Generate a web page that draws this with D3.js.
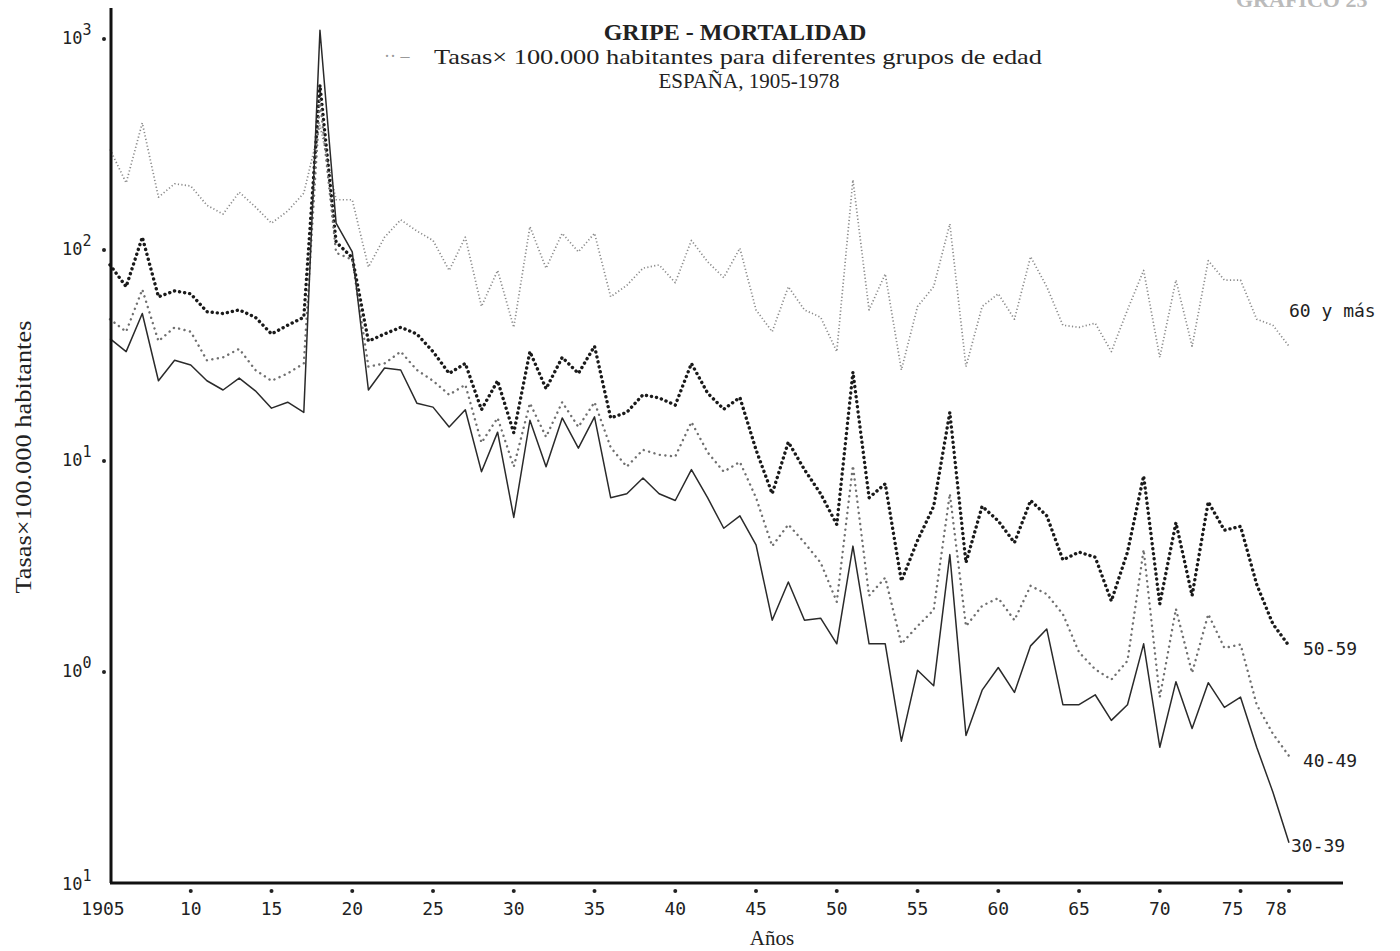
<!DOCTYPE html>
<html>
<head>
<meta charset="utf-8">
<script src="https://cdn.jsdelivr.net/npm/d3@7"></script>
<style>
  body { margin: 0; background: #fff; }
  svg { display: block; }
</style>
</head>
<body>
<div id="chart"></div>
<script>
// ---- data ----
var firstYear = 1905

var rate60 = [300, 208, 400, 178, 206, 201, 163, 148, 188, 160, 134, 153, 186, 390, 173, 173, 83, 115, 139, 123,
  111, 80, 115, 54, 80, 43, 129, 82, 120, 98, 120, 60, 68, 82, 85, 70, 111, 88, 74, 102,
  52, 41, 67, 52, 48, 33, 215, 52, 77, 27, 54, 67, 133, 28, 54, 62, 47, 93, 67, 44,
  43, 45, 33, 52, 80, 31, 72, 35, 89, 72, 72, 47, 44, 35]

var rate50 = [85, 67, 115, 60, 64, 62, 51, 50, 52, 48, 40, 44, 48, 605, 109, 92, 37, 40, 43, 40,
  33, 26, 29, 17.5, 24, 13.6, 33, 22, 31, 26, 35, 16, 17, 20.6, 19.9, 18.4, 29, 21, 17.6, 20,
  11.3, 7.0, 12.3, 9.1, 7.0, 5.0, 26.4, 6.7, 7.8, 2.7, 4.2, 6.1, 17, 3.3, 6.1, 5.2, 4.1, 6.5, 5.5, 3.4,
  3.7, 3.5, 2.17, 3.7, 8.5, 2.1, 5.1, 2.3, 6.4, 4.7, 4.9, 2.6, 1.69, 1.33]

var rate40 = [47, 41, 65, 37, 43, 41, 30, 31, 34, 27, 24, 26, 29, 514, 97, 90, 28, 29, 33, 27,
  24, 20.6, 23, 12.2, 16, 9.4, 18.8, 13, 19, 14.5, 19, 11.6, 9.4, 11.3, 10.7, 10.5, 15.3, 11, 8.9, 9.9,
  6.7, 3.95, 5.0, 4.1, 3.3, 2.15, 9.5, 2.3, 2.8, 1.36, 1.65, 1.97, 7.0, 1.65, 2.06, 2.24, 1.76, 2.56, 2.34, 1.88,
  1.24, 1.03, 0.92, 1.13, 3.8, 0.76, 1.99, 0.99, 1.88, 1.3, 1.35, 0.70, 0.51, 0.40]

var rate30 = [38, 33, 50, 24, 30, 28.5, 24, 21.7, 24.7, 21.5, 17.8, 19, 17, 1100, 134, 98, 21.7, 27.6, 27, 18.8,
  18, 14.5, 17.5, 8.9, 13.7, 5.4, 15.6, 9.4, 16, 11.5, 16.2, 6.7, 7.0, 8.3, 7.0, 6.5, 9.1, 6.7, 4.8, 5.5,
  4.0, 1.76, 2.67, 1.76, 1.8, 1.36, 3.95, 1.36, 1.36, 0.47, 1.02, 0.86, 3.6, 0.50, 0.82, 1.05, 0.80, 1.33, 1.6, 0.70,
  0.70, 0.78, 0.59, 0.70, 1.36, 0.44, 0.90, 0.54, 0.89, 0.68, 0.76, 0.44, 0.27, 0.155]

var seriesNames = ["60 y más", "50-59", "40-49", "30-39"]

var xTicks = [1905, 1910, 1915, 1920, 1925, 1930, 1935, 1940, 1945, 1950, 1955, 1960, 1965, 1970, 1975, 1978]
var xTickLabels = ["1905", "10", "15", "20", "25", "30", "35", "40", "45", "50", "55", "60", "65", "70", "75", "78"]
var yTicks = [1000, 100, 10, 1, 0.1]
var yTickExp = ["3", "2", "1", "0", "1"]   // the scan prints "1" on the lowest one

var title = "GRIPE - MORTALIDAD"
var subtitle = "Tasas\u00d7 100.000 habitantes para diferentes grupos de edad"
var subtitle2 = "ESPAÑA, 1905-1978"

// ---- layout ----
var W = 1400, H = 951
var serif = "'Liberation Serif', 'Times New Roman', serif"
var mono = "'DejaVu Sans Mono', 'Liberation Mono', monospace"

var svg = d3.select("#chart").append("svg")
  .attr("width", W)
  .attr("height", H)
  .style("background", "#fff")

var x = d3.scaleLinear().domain([1905, 1978]).range([110, 1289])
var y = d3.scaleLog().domain([0.1, 1000]).range([883, 39])

var years = rate30.map(function (d, i) { return firstYear + i })

var series = [
  { name: seriesNames[0], values: rate60, stroke: "#8a8a8a", width: 1.7, dash: "1.2,2.3", cap: "butt", lx: 0, ly: -36 },
  { name: seriesNames[1], values: rate50, stroke: "#1a1a1a", width: 3.4, dash: "0.1,5", cap: "round", lx: 14, ly: 3 },
  { name: seriesNames[2], values: rate40, stroke: "#707070", width: 2.4, dash: "0.1,5.5", cap: "round", lx: 14, ly: 5 },
  { name: seriesNames[3], values: rate30, stroke: "#2a2a2a", width: 1.5, dash: null, cap: "butt", lx: 2, ly: 3 }
]

var line = d3.line()
  .x(function (d) { return x(d.year) })
  .y(function (d) { return y(d.v) })

// series lines
series.forEach(function (s) {
  var pts = s.values.map(function (v, i) { return { year: years[i], v: v } })
  svg.append("path")
    .datum(pts)
    .attr("d", line)
    .attr("fill", "none")
    .attr("stroke", s.stroke)
    .attr("stroke-width", s.width)
    .attr("stroke-dasharray", s.dash)
    .attr("stroke-linecap", s.cap)
    .attr("stroke-linejoin", "round")

  var last = pts[pts.length - 1]
  svg.append("text")
    .attr("x", x(last.year) + s.lx)
    .attr("y", y(last.v) + s.ly)
    .attr("dy", "0.35em")
    .attr("font-family", mono)
    .attr("font-size", 18)
    .attr("fill", "#222")
    .text(s.name)
})

// axes (thick hand-drawn style)
svg.append("line")
  .attr("x1", 111).attr("x2", 111)
  .attr("y1", 8).attr("y2", y(0.1))
  .attr("stroke", "#111").attr("stroke-width", 3)
svg.append("line")
  .attr("x1", 110).attr("x2", 1343)
  .attr("y1", y(0.1)).attr("y2", y(0.1))
  .attr("stroke", "#111").attr("stroke-width", 3)

// x ticks: dots under the axis + labels
var xt = svg.append("g")
xt.selectAll("circle")
  .data(xTicks.slice(1))
  .enter().append("circle")
  .attr("cx", function (d) { return x(d) })
  .attr("cy", 891)
  .attr("r", 2)
  .attr("fill", "#222")
xt.selectAll("text")
  .data(xTicks)
  .enter().append("text")
  .attr("x", function (d) {
    if (d == 1905) return x(d) - 7
    if (d == 1975) return x(d) - 8
    if (d == 1978) return x(d) - 13
    return x(d)
  })
  .attr("y", 915)
  .attr("text-anchor", "middle")
  .attr("font-family", mono)
  .attr("font-size", 18)
  .attr("fill", "#222")
  .text(function (d, i) { return xTickLabels[i] })

// y ticks: dots left of the axis + 10^n labels
var yt = svg.append("g")
yt.selectAll("circle")
  .data(yTicks.slice(0, 4))
  .enter().append("circle")
  .attr("cx", 104)
  .attr("cy", function (d) { return y(d) })
  .attr("r", 2)
  .attr("fill", "#222")
var ylab = yt.selectAll("text")
  .data(yTicks)
  .enter().append("text")
  .attr("x", 62)
  .attr("y", function (d, i) { return y(d) + (i == 4 ? 7 : 5) })
  .attr("font-family", mono)
  .attr("font-size", 17)
  .attr("fill", "#222")
ylab.append("tspan").text("10")
ylab.append("tspan")
  .attr("dy", -9)
  .attr("font-size", 15)
  .text(function (d, i) { return yTickExp[i] })

// titles
svg.append("text")
  .attr("x", 735).attr("y", 40)
  .attr("text-anchor", "middle")
  .attr("font-family", serif)
  .attr("font-weight", "bold")
  .attr("font-size", 24)
  .attr("fill", "#222")
  .text(title)
svg.append("text")
  .attr("x", 738).attr("y", 64)
  .attr("text-anchor", "middle")
  .attr("font-family", serif)
  .attr("font-size", 21)
  .attr("textLength", 608)
  .attr("lengthAdjust", "spacingAndGlyphs")
  .attr("fill", "#222")
  .text(subtitle)
svg.append("text")
  .attr("x", 749).attr("y", 88)
  .attr("text-anchor", "middle")
  .attr("font-family", serif)
  .attr("font-size", 21)
  .attr("fill", "#222")
  .text(subtitle2)
svg.append("text")
  .attr("x", 384).attr("y", 62)
  .attr("font-family", serif)
  .attr("font-size", 18)
  .attr("fill", "#999")
  .text("·· –")

// clipped heading at top right of the scanned page
svg.append("text")
  .attr("x", 1236).attr("y", 7)
  .attr("font-family", serif)
  .attr("font-weight", "bold")
  .attr("font-size", 22)
  .attr("fill", "#bbb")
  .text("GRAFICO 23")

// axis titles
svg.append("text")
  .attr("transform", "translate(31, 457) rotate(-90)")
  .attr("text-anchor", "middle")
  .attr("font-family", serif)
  .attr("font-size", 24)
  .attr("textLength", 273)
  .attr("lengthAdjust", "spacingAndGlyphs")
  .attr("fill", "#222")
  .text("Tasas\u00d7100.000 habitantes")
svg.append("text")
  .attr("x", 772).attr("y", 945)
  .attr("text-anchor", "middle")
  .attr("font-family", serif)
  .attr("font-size", 21)
  .attr("fill", "#222")
  .text("Años")
</script>
</body>
</html>
